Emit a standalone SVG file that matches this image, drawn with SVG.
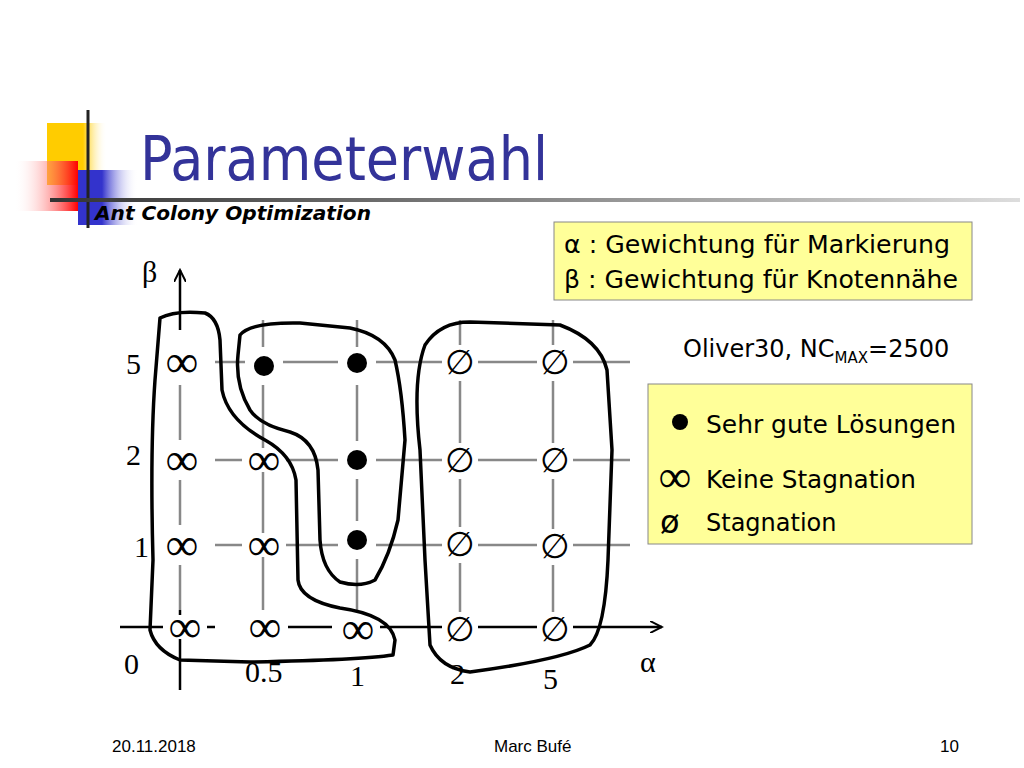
<svg xmlns="http://www.w3.org/2000/svg" width="1024" height="768" viewBox="0 0 1024 768">
<defs>
<linearGradient id="gy" x1="0" x2="1"><stop offset="0" stop-color="#ffcc00"/><stop offset="0.6" stop-color="#ffcc00"/><stop offset="1" stop-color="#fff" stop-opacity="0"/></linearGradient>
<linearGradient id="gr" x1="1" x2="0"><stop offset="0" stop-color="#ff0000"/><stop offset="1" stop-color="#fff" stop-opacity="0"/></linearGradient>
<linearGradient id="gb" x1="0" x2="1"><stop offset="0" stop-color="#3333cc"/><stop offset="0.4" stop-color="#3333cc"/><stop offset="1" stop-color="#fff" stop-opacity="0"/></linearGradient>
<linearGradient id="gl" x1="0" x2="1"><stop offset="0" stop-color="#333"/><stop offset="1" stop-color="#ddd"/></linearGradient>
<marker id="ar" markerWidth="14" markerHeight="12" refX="12" refY="6" orient="auto" markerUnits="userSpaceOnUse"><path d="M0,0 L12,6 L0,12" fill="none" stroke="#000" stroke-width="2"/></marker>
</defs>
<style>
.g{stroke:#888;stroke-width:2.5;fill:none}
.b{stroke:#000;stroke-width:3.5;fill:none;stroke-linejoin:round}
.s{font-family:"Liberation Serif",serif;font-size:30px;fill:#000}
.sym{font-family:"Liberation Serif",serif;font-size:46px;fill:#000;text-anchor:middle}
.em{font-family:"Liberation Serif",serif;font-size:34px;fill:#000;text-anchor:middle}
.t{font-family:Tahoma,"DejaVu Sans",sans-serif;font-size:24px;fill:#000}
.box{fill:#ffff99;stroke:#888;stroke-width:1}
.w{fill:#fff}
</style>
<rect width="1024" height="768" fill="#fff"/>
<g id="logo">
<rect x="47" y="123" width="60" height="62" fill="url(#gy)"/>
<rect x="78" y="170" width="60" height="55" fill="url(#gb)"/>
<rect x="14" y="161" width="64" height="50" fill="url(#gr)"/>
<line x1="88" y1="110" x2="88" y2="228" stroke="#222" stroke-width="3"/>
<rect x="50" y="198" width="970" height="4" fill="url(#gl)"/>
</g>
<g id="title">
<text x="140" y="180" font-family="'DejaVu Sans',sans-serif" font-size="60" fill="#333399" textLength="408" lengthAdjust="spacingAndGlyphs">Parameterwahl</text>
<text x="95" y="220" font-family="'DejaVu Sans',sans-serif" font-size="19" font-weight="bold" font-style="italic" fill="#000" textLength="276" lengthAdjust="spacingAndGlyphs">Ant Colony Optimization</text>
</g>
<g id="connectors">
<path class="g" d="M215,362 H630 M215,460 H630 M215,545 H630 M263,320 V610 M357,320 V610 M460,320 V615 M553,320 V615"/>
<line x1="120" y1="627" x2="662" y2="627" stroke="#000" stroke-width="2.5" marker-end="url(#ar)"/>
<line x1="180" y1="690" x2="180" y2="270" stroke="#000" stroke-width="2.5" marker-end="url(#ar)"/>
<path d="M180,330 V610" stroke="#fff" stroke-width="4"/>
<path class="g" d="M180,385 V440 M180,480 V525 M180,565 V610"/>
<path d="M215,627 H340" stroke="#fff" stroke-width="4"/>
<path d="M245,627 H248 M288,627 H332" stroke="#000" stroke-width="2.5"/>
</g>
<g id="symbols">
<g class="w">
<rect x="160" y="350" width="44" height="24"/><rect x="160" y="448" width="44" height="24"/><rect x="160" y="533" width="44" height="24"/><rect x="163" y="615" width="44" height="24"/>
<rect x="242" y="448" width="44" height="24"/><rect x="242" y="533" width="44" height="24"/><rect x="243" y="615" width="44" height="24"/><rect x="336" y="615" width="44" height="24"/>
<rect x="245" y="347" width="38" height="38"/><rect x="338" y="347" width="38" height="38"/><rect x="338" y="441" width="38" height="38"/><rect x="338" y="521" width="38" height="38"/>
<rect x="442" y="345" width="36" height="36"/><rect x="537" y="345" width="36" height="36"/><rect x="442" y="443" width="36" height="36"/><rect x="537" y="443" width="36" height="36"/>
<rect x="442" y="527" width="36" height="36"/><rect x="537" y="529" width="36" height="36"/><rect x="442" y="612" width="36" height="36"/><rect x="537" y="612" width="36" height="36"/>
</g>
<text class="sym" x="182" y="377">∞</text><text class="sym" x="182" y="475">∞</text><text class="sym" x="182" y="560">∞</text><text class="sym" x="185" y="642">∞</text>
<text class="sym" x="264" y="475">∞</text><text class="sym" x="264" y="560">∞</text><text class="sym" x="265" y="642">∞</text><text class="sym" x="358" y="644">∞</text>
<circle cx="264" cy="366" r="10"/><circle cx="357" cy="363" r="10"/><circle cx="357" cy="460" r="10"/><circle cx="357" cy="540" r="10"/>
<text class="em" x="460" y="374">∅</text><text class="em" x="555" y="374">∅</text><text class="em" x="460" y="472">∅</text><text class="em" x="555" y="472">∅</text>
<text class="em" x="460" y="556">∅</text><text class="em" x="555" y="558">∅</text><text class="em" x="460" y="641">∅</text><text class="em" x="555" y="641">∅</text>
</g>
<g id="blobs">
<path class="b" d="M160,318 Q175,310 205,313 Q218,318 220,340 L222,390 Q228,420 265,440 Q292,455 296,480 L298,580 Q300,600 340,608 Q390,615 395,640 L393,655 Q360,660 250,662 L180,660 Q155,650 150,630 L153,560 Q150,450 155,380 Z"/>
<path class="b" d="M240,335 Q250,322 300,323 L350,328 Q385,335 395,360 Q402,390 405,440 L398,520 Q390,555 375,580 Q360,588 340,582 Q322,570 320,540 L318,470 Q315,440 290,432 Q260,425 250,410 Q235,385 238,355 Z"/>
<path class="b" d="M425,345 Q440,322 470,322 L560,325 Q600,340 607,370 L612,450 L608,560 Q605,630 590,645 Q560,660 470,672 Q440,668 430,645 L425,560 L420,450 Q412,380 425,345 Z"/>
</g>
<g id="axislabels">
<text class="s" x="142" y="282">β</text><text class="s" x="126" y="374">5</text><text class="s" x="126" y="465">2</text><text class="s" x="134" y="557">1</text>
<text class="s" x="124" y="674">0</text><text class="s" x="245" y="682">0.5</text><text class="s" x="350" y="686">1</text><text class="s" x="450" y="684">2</text><text class="s" x="543" y="689">5</text><text class="s" x="640" y="672">α</text>
</g>
<g id="legend1">
<rect class="box" x="554" y="222" width="418" height="78"/>
<text class="t" x="564" y="253" textLength="386" lengthAdjust="spacingAndGlyphs">α : Gewichtung für Markierung</text>
<text class="t" x="564" y="288" textLength="394" lengthAdjust="spacingAndGlyphs">β : Gewichtung für Knotennähe</text>
</g>
<text class="t" x="683" y="357">Oliver30, NC<tspan font-size="15" dy="6">MAX</tspan><tspan dy="-6">=2500</tspan></text>
<g id="legend2">
<rect class="box" x="648" y="384" width="324" height="160"/>
<circle cx="680" cy="422" r="8"/>
<text class="t" x="706" y="433" textLength="250" lengthAdjust="spacingAndGlyphs">Sehr gute Lösungen</text>
<text class="sym" x="675" y="492">∞</text>
<text class="t" x="706" y="488" textLength="210" lengthAdjust="spacingAndGlyphs">Keine Stagnation</text>
<text x="660" y="533" font-family="'DejaVu Sans',sans-serif" font-size="32" fill="#000">ø</text>
<text class="t" x="706" y="531">Stagnation</text>
</g>
<g id="footer" font-family="'Liberation Sans',sans-serif" font-size="17" fill="#000">
<text x="112" y="752">20.11.2018</text><text x="494" y="752">Marc Bufé</text><text x="940" y="752">10</text>
</g>
</svg>
